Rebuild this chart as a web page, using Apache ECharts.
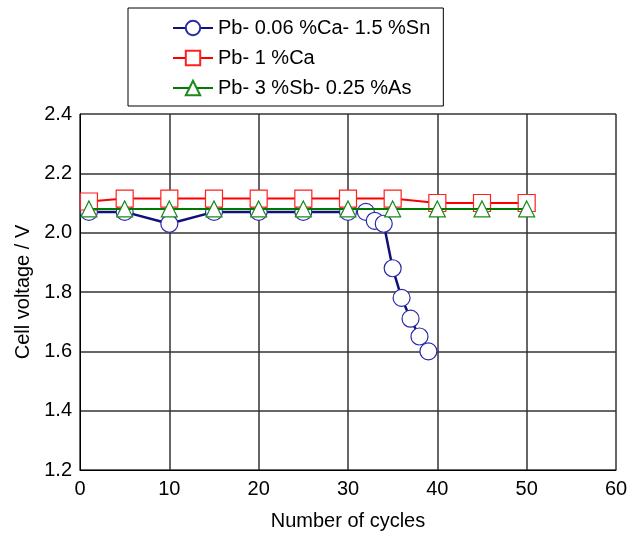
<!DOCTYPE html>
<html>
<head>
<meta charset="utf-8">
<script src="https://cdn.jsdelivr.net/npm/echarts@6/dist/echarts.min.js"></script>
<style>
  html, body { margin: 0; padding: 0; background: #fff; }
  #chart { width: 636px; height: 534px; }
</style>
</head>
<body>
<div id="chart"></div>
<script>
// Pb-Ca-Sn alloy: cycles and cell voltage
const caSnCycles = [1, 5, 10, 15, 20, 25, 30, 32, 33, 34, 35, 36, 37, 38, 39];
const caSnVolts = [2.07, 2.07, 2.03, 2.07, 2.07, 2.07, 2.07, 2.07, 2.04, 2.03, 1.88, 1.78, 1.71, 1.65, 1.60];

// Pb-Ca alloy
const caCycles = [1, 5, 10, 15, 20, 25, 30, 35, 40, 45, 50];
const caVolts = [2.105, 2.115, 2.115, 2.115, 2.115, 2.115, 2.115, 2.115, 2.10, 2.10, 2.10];

// Pb-Sb-As alloy
const sbCycles = [1, 5, 10, 15, 20, 25, 30, 35, 40, 45, 50];
const sbVolts = [2.08, 2.08, 2.08, 2.08, 2.08, 2.08, 2.08, 2.08, 2.08, 2.08, 2.08];

const seriesNames = ["Pb- 0.06 %Ca- 1.5 %Sn", "Pb- 1 %Ca", "Pb- 3 %Sb- 0.25 %As"];

const pairs = (xs, ys) => xs.map((x, i) => [x, ys[i]]);

const chart = echarts.init(document.getElementById("chart"));
const font = "Liberation Sans, Arial, sans-serif";

chart.setOption({
  animation: false,
  textStyle: { fontFamily: font },
  grid: { left: 80, right: 20, top: 114, bottom: 64, outerBoundsMode: "none" },
  legend: {
    orient: "vertical",
    left: 128,
    top: 8,
    padding: [10, 13, 8, 44],
    itemGap: 10,
    itemWidth: 40,
    itemHeight: 18,
    borderColor: "#000",
    borderWidth: 1,
    textStyle: { fontSize: 20, color: "#000", fontFamily: font },
    data: seriesNames,
  },
  xAxis: {
    type: "value",
    min: 0,
    max: 60,
    interval: 10,
    name: "Number of cycles",
    nameLocation: "middle",
    nameGap: 41,
    nameTextStyle: { fontSize: 20, color: "#000" },
    axisLine: { lineStyle: { color: "#000", width: 1 } },
    axisTick: { show: false },
    axisLabel: { fontSize: 20, color: "#000", margin: 9 },
    splitLine: { show: true, lineStyle: { color: "#333", width: 1.5 } },
  },
  yAxis: {
    type: "value",
    min: 1.2,
    max: 2.4,
    interval: 0.2,
    name: "Cell voltage / V",
    nameLocation: "middle",
    nameGap: 44,
    nameTextStyle: { fontSize: 20, color: "#000" },
    axisLine: { show: true, lineStyle: { color: "#000", width: 1 } },
    axisTick: { show: false },
    axisLabel: {
      fontSize: 20,
      color: "#000",
      margin: 8,
      formatter: (v) => v.toFixed(1),
    },
    splitLine: { show: true, lineStyle: { color: "#333", width: 1.5 } },
  },
  series: [
    {
      name: seriesNames[1],
      type: "line",
      data: pairs(caCycles, caVolts),
      symbol: "rect",
      symbolSize: 17,
      color: "#ff1a1a",
      lineStyle: { width: 2, color: "#ff0000" },
      itemStyle: { color: "#fff", borderColor: "#ff2020", borderWidth: 1.2 },
      z: 2,
    },
    {
      name: seriesNames[2],
      type: "line",
      data: pairs(sbCycles, sbVolts),
      symbol: "triangle",
      symbolSize: 16,
      color: "#008000",
      lineStyle: { width: 2, color: "#007a00" },
      itemStyle: { color: "#fff", borderColor: "#1a8a1a", borderWidth: 1.2 },
      z: 3,
    },
    {
      name: seriesNames[0],
      type: "line",
      data: pairs(caSnCycles, caSnVolts),
      symbol: "circle",
      symbolSize: 17,
      color: "#1a1a8c",
      lineStyle: { width: 2.5, color: "#10107a" },
      itemStyle: { color: "#fff", borderColor: "#2a2aa8", borderWidth: 1.2 },
      z: 1,
    },
  ],
});
</script>
</body>
</html>
